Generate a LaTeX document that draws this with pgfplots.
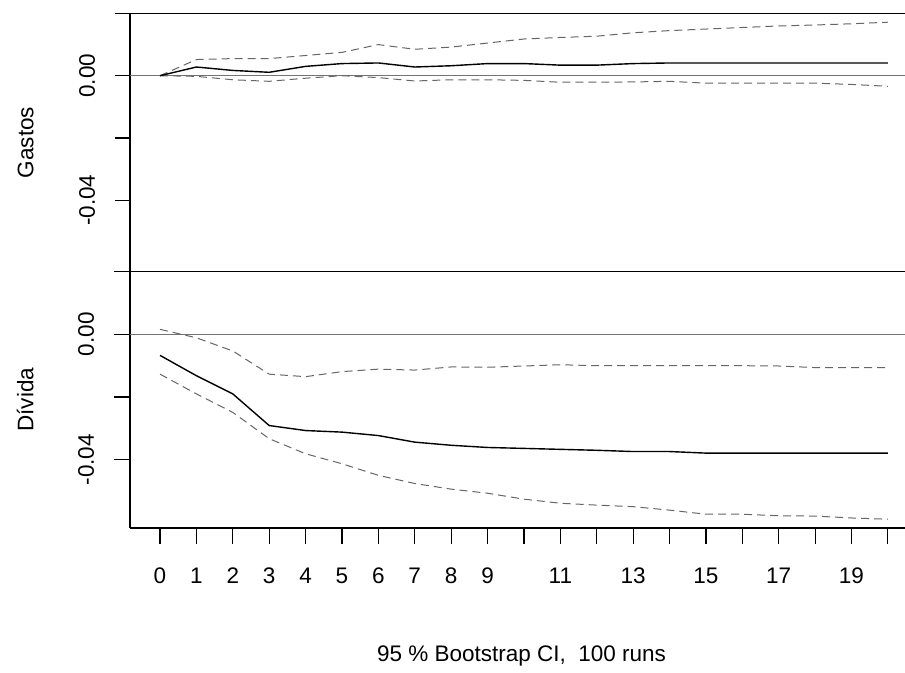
\documentclass[border=0pt]{standalone}
\usepackage{fontspec}
\setmainfont{Liberation Sans}
\usepackage{pgfplots}
\usepackage{pgfplotstable}
\pgfplotsset{compat=1.18}

\definecolor{cigray}{gray}{0.4}
\definecolor{zerogray}{gray}{0.45}

% h  resp  lo  hi
\pgfplotstableread{
h resp lo hi
0 0 0 0
1 0.0028 -0.0002 0.0052
2 0.0017 -0.0013 0.0055
3 0.0011 -0.0018 0.0055
4 0.0030 -0.0008 0.0065
5 0.0039 0.0000 0.0075
6 0.0041 -0.0006 0.0100
7 0.0028 -0.0017 0.0085
8 0.0032 -0.0013 0.0092
9 0.0039 -0.0013 0.0105
10 0.0039 -0.0015 0.0118
11 0.0034 -0.0021 0.0123
12 0.0034 -0.0021 0.0127
13 0.0039 -0.0020 0.0138
14 0.0041 -0.0018 0.0145
15 0.0041 -0.0024 0.0150
16 0.0041 -0.0024 0.0155
17 0.0041 -0.0024 0.0160
18 0.0041 -0.0024 0.0163
19 0.0041 -0.0028 0.0167
20 0.0041 -0.0034 0.0172
}\gastos

\pgfplotstableread{
h resp lo hi
0 -0.0067 -0.0127 0.0016
1 -0.0132 -0.0190 -0.0011
2 -0.0190 -0.0249 -0.0053
3 -0.0291 -0.0333 -0.0127
4 -0.0307 -0.0381 -0.0135
5 -0.0312 -0.0413 -0.0119
6 -0.0323 -0.0450 -0.0111
7 -0.0344 -0.0476 -0.0114
8 -0.0354 -0.0494 -0.0104
9 -0.0361 -0.0507 -0.0105
10 -0.0364 -0.0526 -0.0101
11 -0.0367 -0.0539 -0.0097
12 -0.0370 -0.0545 -0.0100
13 -0.0374 -0.0550 -0.0100
14 -0.0374 -0.0561 -0.0100
15 -0.0379 -0.0574 -0.0100
16 -0.0379 -0.0574 -0.0100
17 -0.0379 -0.0579 -0.0101
18 -0.0379 -0.0580 -0.0106
19 -0.0379 -0.0586 -0.0106
20 -0.0379 -0.0590 -0.0106
}\divida

\newcommand\rfont{\fontsize{11.25}{13.5}\selectfont}

\begin{document}
\begin{tikzpicture}
  \path[use as bounding box] (0,0) rectangle (452.5pt,336.5pt);
  \pgfplotsset{
    irf/.style={
      scale only axis,
      width=387.5pt,
      xmin=-0.824, xmax=20.47,
      ymax=0.02,
      scaled y ticks=false,
      axis y line*=left,
      axis line style={line width=0.6pt},
      tick style={line width=0.6pt, black},
      tick align=outside,
      major tick length=7.5pt,
      ytick={-0.04,-0.02,0,0.02},
      yticklabels={-0.04,,0.00,},
      yticklabel style={xshift=-10pt, rotate=90, anchor=base, font=\rfont},
      every axis y label/.style={at={(axis description cs:0,0.5)},
        xshift=-48.3pt, rotate=90, anchor=base, font=\rfont},
      clip=false,
    },
    resp/.style={black, line width=0.7pt},
    ci/.style={cigray, line width=0.5pt, dash pattern=on 4pt off 2.5pt},
    zero/.style={zerogray, line width=0.5pt},
  }

  % upper panel
  \begin{axis}[irf,
      at={(65pt,200.65pt)}, anchor=south west,
      height=129.1pt,
      ymin=-0.063,
      axis x line*=top,
      xtick=\empty,
      ylabel={Gastos},
    ]
    \addplot[zero] coordinates {(-0.824,0) (20.47,0)};
    \addplot[ci] table[x=h, y=lo] {\gastos};
    \addplot[ci] table[x=h, y=hi] {\gastos};
    \addplot[resp] table[x=h, y=resp] {\gastos};
  \end{axis}

  % lower panel
  \begin{axis}[irf,
      at={(65pt,72.5pt)}, anchor=south west,
      height=128.15pt,
      ymin=-0.0618,
      axis x line*=bottom,
      xtick={0,1,...,20},
      xticklabels={0,1,2,3,4,5,6,7,8,9,,11,,13,,15,,17,,19,},
      xticklabel style={yshift=-20pt, anchor=base, font=\rfont},
      major tick length=8pt,
      ylabel={Dívida},
      every axis x label/.style={at={(axis description cs:0.5,0)},
        anchor=base, yshift=-66.75pt, xshift=2pt, font=\rfont},
      xlabel={95 \% Bootstrap CI,\ \ 100 runs},
    ]
    \draw[line width=0.6pt] (rel axis cs:0,1) -- (rel axis cs:1,1);
    \addplot[zero] coordinates {(-0.824,0) (20.47,0)};
    \addplot[ci] table[x=h, y=lo] {\divida};
    \addplot[ci] table[x=h, y=hi] {\divida};
    \addplot[resp] table[x=h, y=resp] {\divida};
  \end{axis}
\end{tikzpicture}
\end{document}
